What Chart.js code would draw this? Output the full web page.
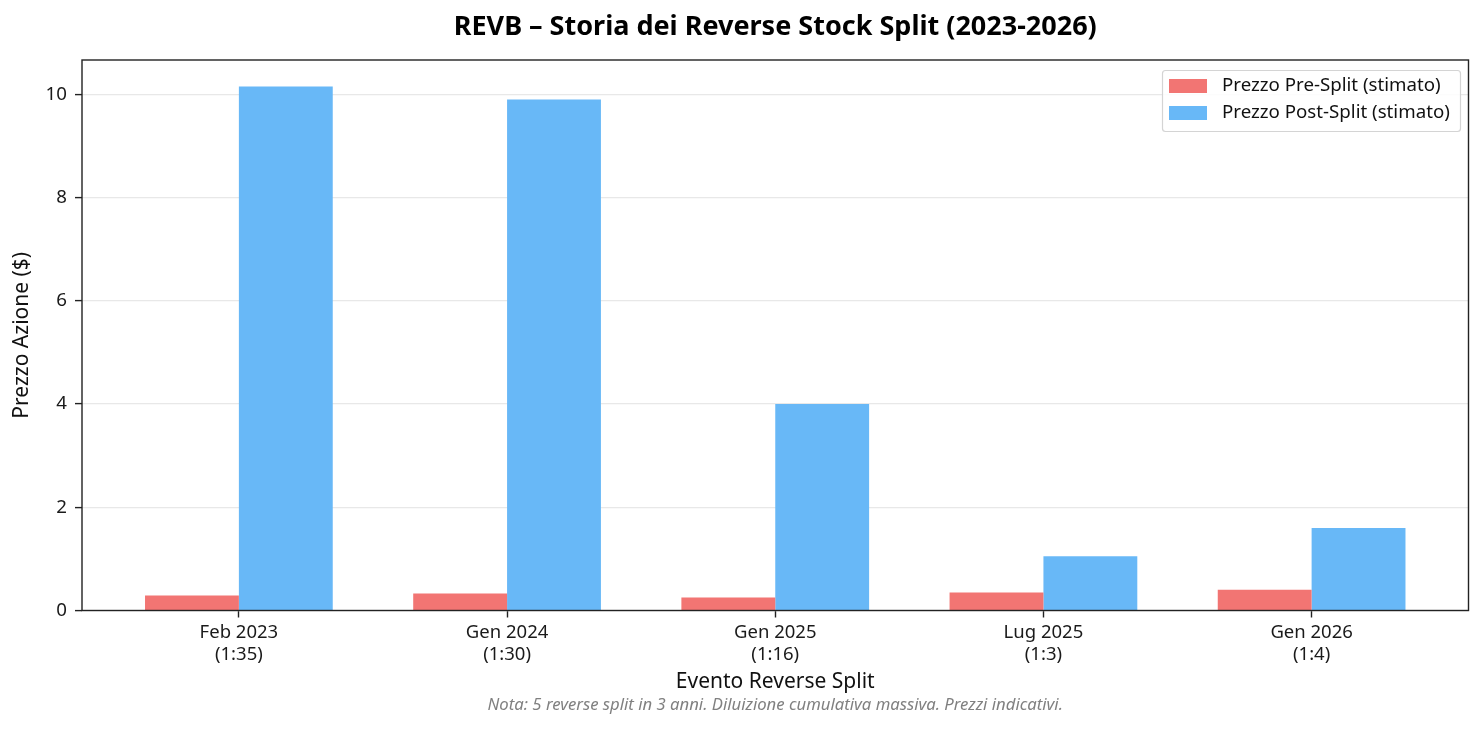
<!DOCTYPE html>
<html>
<head>
<meta charset="utf-8">
<script src="https://cdn.jsdelivr.net/npm/chart.js@4"></script>
<style>
    body { margin: 0; background: #fff; }
    #wrap { width: 1483px; height: 729px; position: relative; }
</style>
</head>
<body>
<div id="wrap"><canvas id="splitChart"></canvas></div>
<script>
// Dati
const eventLabels = [['Feb 2023', '(1:35)'], ['Gen 2024', '(1:30)'], ['Gen 2025', '(1:16)'], ['Lug 2025', '(1:3)'], ['Gen 2026', '(1:4)']];
const preSplit = [0.29, 0.33, 0.25, 0.35, 0.40];
const postSplit = [10.15, 9.90, 4.00, 1.05, 1.60];
const yTicks = [0, 2, 4, 6, 8, 10];
const seriesNames = ['Prezzo Pre-Split (stimato)', 'Prezzo Post-Split (stimato)'];
const seriesColors = ['#f27573', '#68b8f7'];

const FONT = "'Noto Sans', 'DejaVu Sans', sans-serif";

// Box, titolo, nota e legenda disegnati a mano (stile matplotlib)
const decorPlugin = {
    id: 'decor',
    afterDatasetsDraw(chart) {
        const { ctx, chartArea: a } = chart;
        ctx.save();
        ctx.strokeStyle = '#222';
        ctx.lineWidth = 1.4;
        ctx.strokeRect(a.left, a.top, a.right - a.left, a.bottom - a.top);

        // legenda
        const bx = 1162, by = 70, bw = 298, bh = 61;
        ctx.fillStyle = 'rgba(255,255,255,0.85)';
        ctx.strokeStyle = '#d4d4d4';
        ctx.lineWidth = 1.2;
        ctx.beginPath();
        ctx.roundRect(bx + 0.5, by + 0.5, bw, bh, 3);
        ctx.fill();
        ctx.stroke();
        ctx.font = '18.7px ' + FONT;
        ctx.textBaseline = 'middle';
        ctx.textAlign = 'left';
        seriesNames.forEach((name, i) => {
            const cy = by + 16 + i * 27;
            ctx.fillStyle = seriesColors[i];
            ctx.fillRect(bx + 7, cy - 7, 38, 14);
            ctx.fillStyle = '#111';
            ctx.fillText(name, bx + 60, cy);
        });

        // titolo e nota
        const cx = (a.left + a.right) / 2;
        ctx.textAlign = 'center';
        ctx.fillStyle = '#000';
        ctx.font = 'bold 27px ' + FONT;
        ctx.fillText('REVB – Storia dei Reverse Stock Split (2023-2026)', cx, 27);
        ctx.fillStyle = '#808080';
        ctx.font = 'italic 16.7px ' + FONT;
        ctx.fillText('Nota: 5 reverse split in 3 anni. Diluizione cumulativa massiva. Prezzi indicativi.', cx, 705);
        ctx.restore();
    }
};

const ctx = document.getElementById('splitChart').getContext('2d');
const splitChart = new Chart(ctx, {
    type: 'bar',
    data: {
        datasets: [
            {
                label: seriesNames[0],
                data: preSplit.map((v, i) => ({ x: i, y: v })),
                backgroundColor: seriesColors[0]
            },
            {
                label: seriesNames[1],
                data: postSplit.map((v, i) => ({ x: i, y: v })),
                backgroundColor: seriesColors[1]
            }
        ]
    },
    options: {
        responsive: true,
        maintainAspectRatio: false,
        animation: false,
        layout: { padding: { left: 0, right: 14.5, top: 60, bottom: 32 } },
        datasets: { bar: { categoryPercentage: 0.7, barPercentage: 1.0 } },
        plugins: {
            legend: { display: false },
            tooltip: { enabled: false }
        },
        scales: {
            x: {
                type: 'linear',
                offset: false,
                min: -0.585,
                max: 4.585,
                afterBuildTicks: s => { s.ticks = eventLabels.map((_, i) => ({ value: i })); },
                afterFit: s => { s.height = 86.5; },
                ticks: {
                    callback: v => eventLabels[v],
                    font: { family: FONT, size: 18.5, lineHeight: 1.2 },
                    color: '#1a1a1a',
                    padding: 4,
                    maxRotation: 0,
                    autoSkip: false
                },
                grid: { offset: false, drawOnChartArea: false, tickLength: 7, tickColor: '#222', tickWidth: 1.4 },
                border: { display: false },
                title: {
                    display: true,
                    text: 'Evento Reverse Split',
                    font: { family: FONT, size: 21 },
                    color: '#111',
                    padding: { top: 0, bottom: 2 }
                }
            },
            y: {
                min: 0,
                max: 10.665,
                afterBuildTicks: s => { s.ticks = yTicks.map(v => ({ value: v })); },
                afterFit: s => { s.width = 82; },
                ticks: {
                    font: { family: FONT, size: 18.7 },
                    color: '#1a1a1a',
                    padding: 8
                },
                grid: { color: '#e8e8e8', lineWidth: 1.2, tickLength: 7, tickColor: '#222', tickWidth: 1.4 },
                border: { display: false },
                title: {
                    display: true,
                    text: 'Prezzo Azione ($)',
                    font: { family: FONT, size: 21 },
                    color: '#111',
                    padding: { top: 9, bottom: 0 }
                }
            }
        }
    },
    plugins: [decorPlugin]
});
</script>
</body>
</html>
